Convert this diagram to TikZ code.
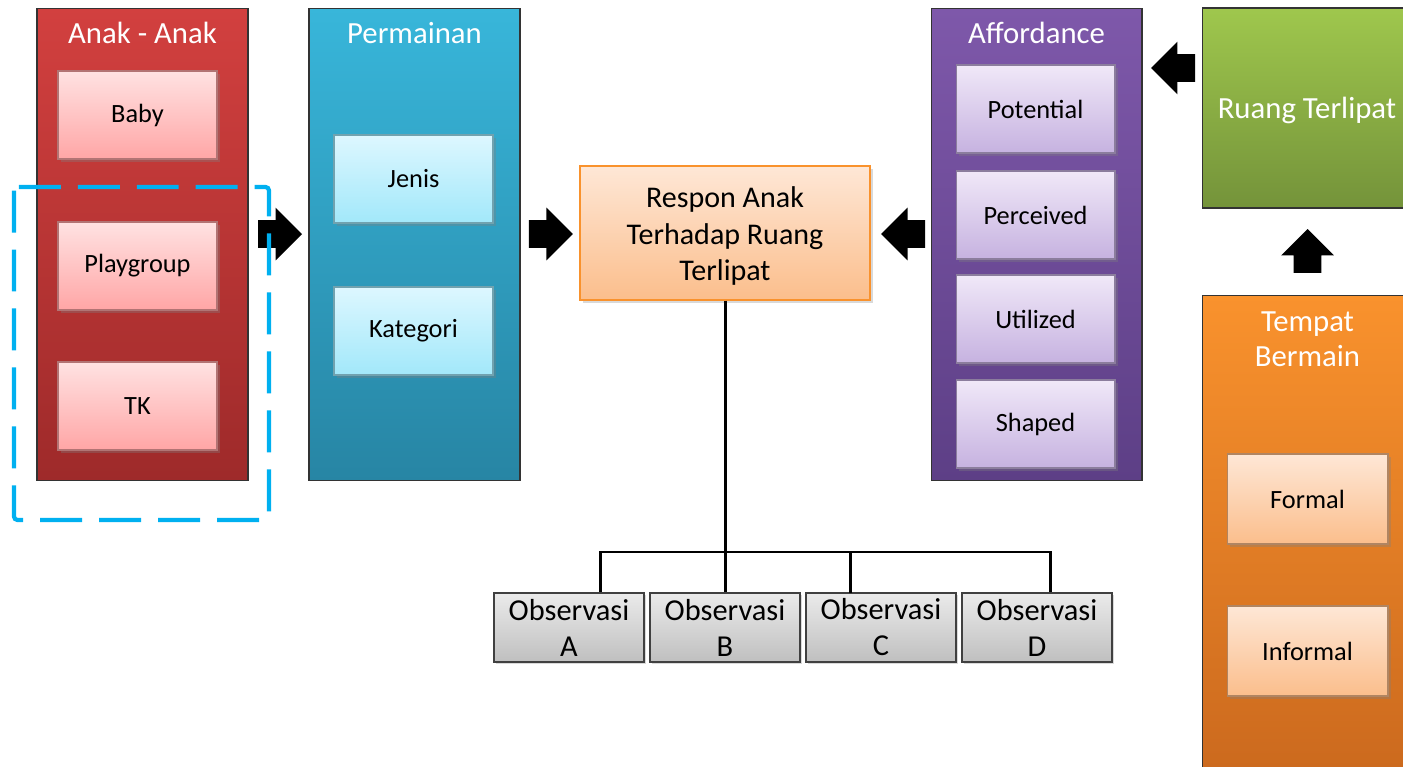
\documentclass[tikz,border=0pt]{standalone}
\usepackage{fontspec}
\setmainfont{Carlito}
\usetikzlibrary{calc, shapes.arrows, shadows}

% Colours
\definecolor{anakTop}{HTML}{D2403F}
\definecolor{anakBot}{HTML}{9E2A2A}
\definecolor{anakInTop}{HTML}{FFE2E2}
\definecolor{anakInBot}{HTML}{FFA6A6}
\definecolor{permTop}{HTML}{38B6DA}
\definecolor{permBot}{HTML}{2785A4}
\definecolor{permInTop}{HTML}{DDF7FF}
\definecolor{permInBot}{HTML}{A2E8FA}
\definecolor{affTop}{HTML}{7E58AA}
\definecolor{affBot}{HTML}{5D3F86}
\definecolor{affInTop}{HTML}{F0E8F8}
\definecolor{affInBot}{HTML}{C6B2E0}
\definecolor{ruangTop}{HTML}{9FC74D}
\definecolor{ruangBot}{HTML}{74933A}
\definecolor{tempatTop}{HTML}{F9922D}
\definecolor{tempatBot}{HTML}{CC6A1E}
\definecolor{tempatInTop}{HTML}{FEE7D6}
\definecolor{tempatInBot}{HTML}{FBBE8C}
\definecolor{dashBlue}{HTML}{00B0F0}

\begin{document}
\begin{tikzpicture}[x=0.02cm, y=-0.02cm,
    panel/.style={draw=black!80, line width=0.6pt, minimum width=4.22cm, minimum height=9.46cm, inner sep=0pt},
    inbox/.style={line width=0.6pt, minimum width=3.18cm, minimum height=1.76cm, inner sep=0pt,
        font=\fontsize{15}{18}\selectfont,
        drop shadow={shadow xshift=1.5pt, shadow yshift=-1.5pt, opacity=0.35}},
    paneltitle/.style={text=white, font=\fontsize{17.5}{20}\selectfont, align=center},
    obsbox/.style={draw=black!75, line width=0.6pt, top color=black!8, bottom color=black!25,
        minimum width=3.0cm, minimum height=1.38cm, inner sep=0pt, align=center,
        font=\fontsize{17.3}{20.5}\selectfont,
        drop shadow={shadow xshift=1.2pt, shadow yshift=-1.2pt, opacity=0.3}},
    bigarrow/.style={single arrow, fill=black, draw=none, inner sep=0.27cm, anchor=tip,
        minimum width=1.04cm, minimum height=0.88cm, single arrow head extend=0.25cm},
    treeline/.style={line width=1.7pt}
]
    % Fix the size of the page
    \useasboundingbox (0,0) rectangle (1403,767);
    \clip (0,0) rectangle (1403,767);

    % Anak - Anak
    \node[panel, top color=anakTop, bottom color=anakBot] (anak) at (142.5,244.5) {};
    \node[paneltitle] at (142.5,33) {Anak - Anak};
    \node[inbox, draw=anakInBot!70!black, top color=anakInTop, bottom color=anakInBot] (baby) at (137.5,115) {Baby};
    \node[inbox, draw=anakInBot!70!black, top color=anakInTop, bottom color=anakInBot] (playgroup) at (137.5,266) {Playgroup};
    \node[inbox, draw=anakInBot!70!black, top color=anakInTop, bottom color=anakInBot] (tk) at (137.5,406) {TK};

    % Permainan
    \node[panel, top color=permTop, bottom color=permBot] (perm) at (414.5,244.5) {};
    \node[paneltitle] at (414.5,33) {Permainan};
    \node[inbox, draw=permInBot!70!black, top color=permInTop, bottom color=permInBot] (jenis) at (413.5,179) {Jenis};
    \node[inbox, draw=permInBot!70!black, top color=permInTop, bottom color=permInBot] (kategori) at (413.5,331) {Kategori};

    % Respon Anak
    \node[draw=tempatTop, line width=0.8pt, top color=tempatInTop, bottom color=tempatInBot,
        minimum width=5.8cm, minimum height=2.68cm,
        drop shadow={shadow xshift=1.5pt, shadow yshift=-1.5pt, opacity=0.3}]
        (respon) at (725,233) {};
    \node[align=center, font=\fontsize{17.1}{20.5}\selectfont] at (725,236) {Respon Anak\\Terhadap Ruang\\Terlipat};

    % Affordance
    \node[panel, top color=affTop, bottom color=affBot] (afford) at (1036.5,244.5) {};
    \node[paneltitle] at (1036.5,33) {Affordance};
    \node[inbox, draw=affInBot!70!black, top color=affInTop, bottom color=affInBot] (potential) at (1035.5,109) {Potential};
    \node[inbox, draw=affInBot!70!black, top color=affInTop, bottom color=affInBot] (perceived) at (1035.5,215) {Perceived};
    \node[inbox, draw=affInBot!70!black, top color=affInTop, bottom color=affInBot] (utilized) at (1035.5,319) {Utilized};
    \node[inbox, draw=affInBot!70!black, top color=affInTop, bottom color=affInBot] (shaped) at (1035.5,424) {Shaped};

    % Ruang Terlipat
    \node[draw=black!80, line width=0.6pt, top color=ruangTop, bottom color=ruangBot,
        minimum width=4.22cm, minimum height=4cm, inner sep=0pt] (ruang) at (1307.5,108) {};
    \node[paneltitle] at (1307,110) {Ruang Terlipat};

    % Tempat Bermain
    \node[panel, top color=tempatTop, bottom color=tempatBot] (tempat) at (1307.5,531.5) {};
    \node[paneltitle] at (1307.5,339.5) {Tempat\\Bermain};
    \node[inbox, draw=tempatInBot!70!black, top color=tempatInTop, bottom color=tempatInBot,
        minimum width=3.22cm, minimum height=1.8cm] (formal) at (1307.5,499) {Formal};
    \node[inbox, draw=tempatInBot!70!black, top color=tempatInTop, bottom color=tempatInBot,
        minimum width=3.22cm, minimum height=1.8cm] (informal) at (1307.5,651) {Informal};

    % Block arrows (placed by their tips)
    \node[bigarrow] (arrA) at ($(perm.west |- respon.west)+(-6,1)$) {};
    \node[bigarrow] (arrB) at ($(respon.west)+(-6,1)$) {};
    \node[bigarrow, shape border rotate=180] (arrC) at ($(respon.east)+(10,1)$) {};
    \node[bigarrow, shape border rotate=180] (arrD) at ($(afford.east |- 0,68)+(8,0)$) {};
    \node[bigarrow, shape border rotate=90] (arrE) at ($(ruang.south)+(0,20)$) {};

    % Dashed selection round Playgroup and TK
    \draw[dashBlue, line width=2.4pt, dash pattern=on 0.84cm off 0.34cm, rounded corners=2pt]
        (14,187) rectangle (269,520);

    % Observasi boxes
    \node[obsbox] (obsA) at (569,627.5) {Observasi\\A};
    \node[obsbox] (obsB) at (725,627.5) {Observasi\\B};
    \node[obsbox] (obsC) at (881,627.5) {Observasi\\C};
    \node[obsbox] (obsD) at (1037,627.5) {Observasi\\D};

    % Tree from Respon down to the observations
    \coordinate (busL) at (600,552);
    \coordinate (busR) at (1050,552);
    \draw[treeline] (respon.south) -- (respon.south |- busL);
    \draw[treeline, line cap=rect] (busL) -- (busR);
    \draw[treeline] (busL) -- (busL |- obsA.north);
    \draw[treeline] (respon.south |- busL) -- (obsB.north);
    \draw[treeline] (850,552) -- (850,593);
    \draw[treeline] (busR) -- (busR |- obsD.north);
\end{tikzpicture}
\end{document}
